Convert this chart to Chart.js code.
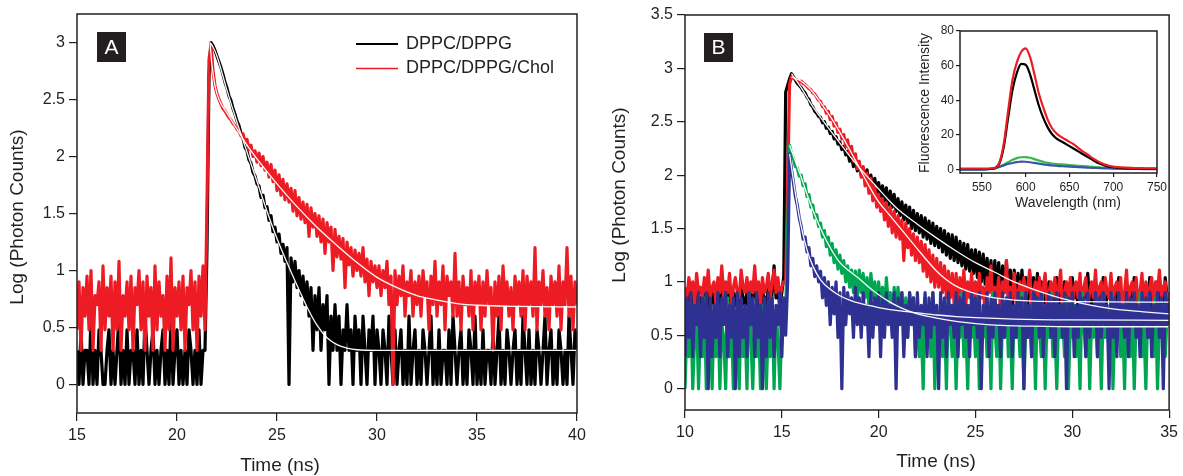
<!DOCTYPE html>
<html><head><meta charset="utf-8">
<script src="https://cdn.jsdelivr.net/npm/chart.js@4.4.1/dist/chart.umd.min.js"></script>
<style>
html,body{margin:0;padding:0;background:#fff;}
#wrap{position:relative;width:1183px;height:476px;overflow:hidden;background:#fff;}
canvas{position:absolute;}
</style></head><body>
<div id="wrap">
<canvas id="cA" width="600" height="476" style="left:0;top:0;width:600px;height:476px"></canvas>
<canvas id="cB" width="583" height="476" style="left:600px;top:0;width:583px;height:476px"></canvas>
<canvas id="cI" width="300" height="230" style="left:880px;top:0;width:300px;height:230px"></canvas>
</div>
<script>
// ---------- Panel A: time base (ns) ----------
const timeStartA = 15, timeStepA = 0.1;
const seriesNamesA = ['DPPC/DPPG', 'DPPC/DPPG/Chol'];
const logA_DPPC_DPPG = [
0.3,0,0.48,0,0.3,0.3,0,0.6,0,0.3, 0,0.48,0.3,0,0,0.3,0.48,0,0.3,0, 0.3,0.6,0,0.3,0,0.48,0,0.3,0.3,0,
0.48,0,0.3,0,0.6,0.3,0,0.3,0.48,0, 0.3,0,0.3,0.48,0,0.3,0,0.6,0,0.3, 0.48,0,0.3,0,0.3,0,0.48,0.3,0,0.3,
0,0.48,0,0.3,0.3,
1.2,2.7,3.0,2.97,2.93,
2.88,2.83,2.78,2.72,2.65,2.6,2.53,2.49,2.42,2.37,
2.31,2.27,2.2,2.16,2.08,2.05,1.97,1.94,1.86,1.83,
1.76,1.74,1.64,1.66,1.55,1.56,1.44,1.48,1.34,1.38,
1.25,1.32,1.15,1.23,1.08,1.2,0,1.11,0.9,1.08,
0.85,1.0,0.78,0.95,0.7,0.9,0.6,0.85,0.3,0.78,
0.48,0.85,0.3,0.7,0.48,0.78,0,0.6,0.3,0.7,
0.3,0.6,0,0.48,0.3,0.7,0.3,0.48,0,0.6,
0.3,0.48,0,0.6,0.3,0,0.48,0.3,0.6,0,
0.48,
0.3,0,0.48,0.3,0,0.6,0.3,0,0.48,0, 0.3,0.48,0,0.3,0,0.6,0,0.3,0.48,0,
0.3,0,0.48,0.3,0,0.3,0.6,0,0.3,0, 0.48,0,0.3,0.3,0,0.48,0,0.6,0.3,0,
0.3,0.48,0,0.3,0,0.48,0.3,0,0.6,0, 0.3,0,0.48,0,0.3,0.3,0,0.48,0,0.3,
0.6,0,0.3,0,0.48,0.3,0,0.3,0.48,0, 0.3,0,0.6,0.3,0,0.48,0,0.3,0,0.48,
0.3,0,0.3,0.6,0,0.3,0.48,0,0.3,0, 0.48,0.3,0,0.3,0,0.6,0.3,0,0.48,0.3
];
const logA_DPPC_DPPG_Chol = [
0.48,0.9,0.3,0.85,0.6,0.95,0.48,1.0,0.3,0.78, 0.7,0.9,0.3,1.04,0.48,0.85,0.6,0.95,0.3,0.9,
0.48,1.08,0.3,0.78,0.6,0.9,0.48,0.95,0.3,0.85, 0.7,1.0,0.48,0.9,0.3,0.95,0.6,0.85,0.3,1.04,
0.48,0.9,0.6,0.78,0.3,0.95,0.48,1.11,0.3,0.85, 0.6,0.9,0.48,0.95,0.3,0.85,0.7,1.0,0.48,0.9,
0.3,0.95,0.6,1.04,0.48,
1.6,2.85,2.98,2.75,2.62,
2.55,2.5,2.46,2.42,2.4,2.37,2.34,2.32,2.29,2.27,
2.24,2.22,2.18,2.2,2.12,2.15,2.06,2.1,2.0,2.05,
1.95,2.03,1.92,2.0,1.88,1.95,1.82,1.93,1.78,1.88,
1.7,1.84,1.66,1.8,1.62,1.76,1.6,1.72,1.52,1.7,
1.48,1.64,1.45,1.6,1.42,1.58,1.3,1.55,1.38,1.5,
1.3,1.48,1.25,1.45,1.15,1.42,1.25,1.38,1.0,1.36,
1.12,1.3,1.1,1.28,0.85,1.25,1.05,1.2,0.95,1.18,
1.0,1.15,0.95,1.2,0.9,1.1,0.78,1.08,0.9,1.04,
0.85,1.04,0.78,1.0,0.85,1.08,0.7,0.95,0,1.0,
0.7,0.95,0.78,1.04,0.6,0.9,0.78,1.0,0.6,0.9,
0.7,0.95,0.6,1.0,0.78,0.9,0.48,0.95,0.7,1.08,
0.6,0.9,0.7,1.04,0.48,0.95,0.78,0.9,0.6,1.15,
0.6,0.9,0.48,0.95,0.7,0.85,0.6,1.0,0.48,0.9,
0.7,0.95,0.48,0.9,0.6,1.0,0.7,0.85,0.3,0.9,
0.6,0.95,0.48,1.04,0.7,0.9,0.6,0.85,0.48,0.95,
0.7,0.9,0.6,1.0,0.48,0.95,0.7,0.9,0.6,1.2,
0.48,0.9,0.7,1.0,0.6,0.85,0.48,0.95,0.7,0.9,
0.6,1.04,0.48,0.9,0.7,1.2,0.6,0.95,0.48,0.9,
0.7
];
const fitA_DPPC_DPPG_t = [21.65,21.8,22,22.5,23,23.5,24,24.5,25,25.5,26,26.5,27,27.5,28,28.5,29,30,32,35,40];
const fitA_DPPC_DPPG_v = [3.0,2.96,2.88,2.58,2.3,2.04,1.78,1.52,1.28,1.07,0.87,0.68,0.52,0.41,0.35,0.32,0.305,0.3,0.3,0.3,0.3];
const fitA_Chol_t = [21.65,21.75,21.9,22.1,22.5,23,23.5,24,25,26,27,28,29,30,31,32,33,34,35,37,40];
const fitA_Chol_v = [3.0,2.8,2.62,2.5,2.38,2.24,2.1,1.98,1.76,1.56,1.38,1.22,1.07,0.94,0.85,0.78,0.74,0.71,0.695,0.685,0.68];
const ticksAX = [15,20,25,30,35,40];
const ticksAY = [0,0.5,1,1.5,2,2.5,3];

// ---------- Panel B ----------
const timeStartB = 10, timeStepB = 0.1;
const logB_black = [
0.85,0.7,0.95,0.78,0.9,0.6,0.95,0.78,0.85,0.7, 0.95,0.78,0.9,0.7,0.9,0.85,0.6,0.95,0.78,0.95,
0.7,0.9,0.85,0.95,0.6,0.9,0.78,0.9,0.7,0.95, 0.85,0.78,0.9,0.7,0.9,0.85,1.0,0.78,0.9,0.7,
0.9,0.85,0.78,0.95,0.7,0.9,1.15,0.85,0.9,0.78, 0.9,1.05,
2.78,2.84,2.9,2.95,2.92,2.89,2.86,2.84,
2.82,2.79,2.77,2.73,2.71,2.66,2.64,2.6,2.58,2.55,
2.54,2.49,2.5,2.44,2.45,2.39,2.41,2.34,2.36,2.29,
2.31,2.24,2.27,2.19,2.22,2.13,2.18,2.08,2.14,2.04,
2.1,2.0,2.07,1.96,2.05,1.92,2.0,1.88,1.97,1.84,
1.93,1.8,1.9,1.76,1.88,1.72,1.85,1.7,1.82,1.66,
1.78,1.62,1.75,1.58,1.72,1.55,1.7,1.5,1.67,1.48,
1.64,1.46,1.62,1.42,1.6,1.4,1.57,1.36,1.55,1.34,
1.52,1.32,1.5,1.28,1.48,1.25,1.45,1.22,1.44,1.2,
1.42,1.18,1.38,1.15,1.36,1.12,1.35,1.1,1.3,1.08,
1.3,1.04,1.28,1.0,1.26,0.98,1.22,0.95,1.2,0.9,
1.2,0.9,1.18,0.85,1.15,0.9,1.2,0.85,1.11,0.78,
1.11,0.85,1.08,0.78,1.11,0.85,1.04,0.78,1.08,0.85,
1.04,0.78,1.08,0.85,1.0,0.7,1.04,0.78,1.0,0.85,
0.95,0.78,1.04,0.7,0.9,0.85,1.0,0.78,0.95,0.7, 1.04,0.85,0.9,0.78,1.0,0.7,0.95,0.85,1.08,0.78,
0.9,0.7,1.0,0.85,0.95,0.78,1.04,0.7,0.9,0.85, 1.0,0.78,0.95,0.7,1.04,0.85,0.9,0.78,1.0,0.7,
0.95,0.85,1.04,0.78,0.9,0.7,1.0,0.85,0.95,0.78, 1.04,0.7,0.9,0.85,1.0,0.78,0.95,0.7,1.04,0.85,
0.9
];
const logB_red = [
0.95,0.85,1.04,0.9,1.0,0.78,1.08,0.9,0.95,0.85, 1.04,0.9,1.11,0.85,0.95,1.0,0.78,1.04,0.9,1.15,
0.85,1.0,0.9,1.08,0.78,0.95,1.04,0.9,0.85,1.11, 0.95,0.9,1.04,0.85,1.0,0.9,1.15,0.85,1.0,0.78,
1.04,0.9,0.95,1.08,0.85,1.0,1.11,0.9,1.04,0.85, 0.95,1.0,
1.0,1.9,2.85,2.92,2.91,2.9,2.89,2.87,
2.88,2.86,2.85,2.83,2.81,2.8,2.77,2.76,2.73,2.7,
2.69,2.64,2.64,2.58,2.6,2.52,2.55,2.46,2.49,2.4,
2.43,2.34,2.38,2.27,2.33,2.2,2.27,2.13,2.2,2.06,
2.13,1.98,2.08,1.9,2.02,1.83,1.97,1.76,1.9,1.7,
1.82,1.66,1.78,1.58,1.74,1.52,1.7,1.46,1.66,1.42,
1.62,1.4,1.58,1.2,1.55,1.32,1.5,1.25,1.45,1.2,
1.42,1.18,1.38,1.1,1.35,1.05,1.3,1.0,1.25,0.95,
1.22,0.95,1.18,0.9,1.15,0.85,1.1,0.85,1.08,0.78,
1.08,0.78,1.04,0.85,1.11,0.78,1.0,0.85,1.08,0.78,
1.0,0.78,1.08,0.85,0.95,0.7,1.04,0.9,1.15,0.78, 0.95,0.85,1.04,0.7,1.0,0.9,1.2,0.78,0.95,0.85,
1.08,0.78,0.9,1.0,0.7,1.04,0.85,0.95,1.11,0.78, 0.9,1.0,0.85,1.04,0.7,0.95,1.08,0.78,0.9,1.0,
0.85,1.04,0.78,0.95,1.11,0.7,0.9,1.0,0.85,1.04, 0.78,0.95,1.0,0.85,1.08,0.7,0.95,1.04,0.78,0.9,
1.0,0.85,1.11,0.78,0.95,1.0,0.7,1.04,0.9,0.85, 1.08,0.78,0.95,1.0,0.85,1.04,0.7,0.9,1.11,0.78,
0.95,1.0,0.85,1.04,0.78,0.9,1.08,0.7,1.0,0.85, 0.95,1.04,0.78,1.0,0.9,1.11,0.85,0.95,1.0,0.78,
0.9
];
const logB_green = [
0,0.6,0.3,0.78,0,0.48,0.7,0,0.6,0.3, 0.85,0,0.48,0.6,0,0.7,0.3,0.78,0,0.6,
0.48,0,0.85,0.3,0.6,0,0.7,0.48,0,0.78, 0.3,0.6,0,0.9,0.48,0,0.7,0.3,0.6,0,
0.78,0.48,0,0.6,0.3,0.85,0,0.7,0.48,0, 0.6,0.78,
0.7,1.5,2.28,2.2,2.16,2.08,2.07,1.99,
2.0,1.9,1.92,1.8,1.82,1.7,1.72,1.6,1.63,1.52,
1.55,1.42,1.48,1.33,1.42,1.25,1.36,1.18,1.3,1.12,
1.25,1.08,1.2,1.0,1.15,0.95,1.11,0.9,1.1,0.85,
1.11,0.9,1.08,0.85,1.04,0.78,1.08,0.85,1.0,0.78,
1.0,0.78,0.95,0.7,1.04,0.78,0.9,0.6,0.95,0.7,
0.95,0.7,0.9,0.6,0.85,0.48,0.9,0.7,0.85,0.3,
0.78,0.3,0.6,0,0.85,0.48,0.7,0.3,0.9,0, 0.6,0.48,0.78,0.3,0.7,0,0.85,0.6,0.3,0.78,
0,0.7,0.48,0.9,0.3,0.6,0,0.78,0.48,0.7, 0.3,0.85,0,0.6,0.48,0.78,0.3,0.7,0,0.9,
0.6,0.3,0.78,0,0.7,0.48,0.85,0.3,0.6,0, 0.78,0.48,0.7,0.3,0.9,0,0.6,0.48,0.78,0.3,
0.7,0,0.85,0.6,0.3,0.78,0,0.7,0.48,0.9, 0.3,0.6,0,0.78,0.48,0.7,0.3,0.85,0,0.6,
0.48,0.78,0.3,0.7,0,0.9,0.6,0.3,0.78,0, 0.7,0.48,0.85,0.3,0.6,0,0.78,0.48,0.7,0.3,
0.9,0,0.6,0.48,0.78,0.3,0.7,0,0.85,0.6, 0.3,0.78,0,0.7,0.48,0.9,0.3,0.6,0,0.78,
0.48,0.7,0.3,0.85,0,0.6,0.48,0.78,0.3,0.7,
0.6
];
const logB_blue = [
0.3,0.85,0.48,0.9,0.3,0.78,0.6,0.9,0.3,0.85, 0.48,0.9,0,0.85,0.3,0.78,0.48,0.9,0.3,0.85,
0.6,0.9,0.3,0.78,0.48,0.85,0,0.9,0.3,0.85, 0.48,0.78,0.3,0.9,0.6,0.85,0.3,0.9,0.48,0.78,
0,0.85,0.3,0.9,0.48,0.85,0.3,0.78,0.6,0.9, 0.3,0.85,
0.5,1.0,2.2,2.05,1.93,1.8,1.72,1.6,
1.52,1.4,1.42,1.28,1.32,1.15,1.22,1.05,1.15,1.0,
1.1,0.85,1.04,0.78,1.0,0.6,0.95,0.7,1.0,0.48,
0.9,0,0.95,0.6,0.9,0.7,0.85,0.48,0.95,0.6,
0.85,0.48,0.9,0.6,0.78,0.3,0.9,0.48,0.85,0.6, 0.9,0.3,0.85,0.48,0.9,0.6,0.78,0.48,0.9,0,
0.85,0.6,0.9,0.3,0.78,0.48,0.9,0.6,0.85,0.3, 0.9,0.48,0.78,0.6,0.9,0.3,0.85,0.48,0.9,0.6,
0.78,0,0.9,0.48,0.85,0.3,0.9,0.6,0.78,0.48, 0.9,0.3,0.85,0.6,0.9,0.48,0.78,0.3,0.9,0.6,
0.85,0.48,0.9,0,0.78,0.6,0.9,0.3,0.85,0.48, 0.9,0.6,0.78,0.3,0.9,0.48,0.85,0.6,0.9,0.3,
0.78,0.48,0.9,0.6,0.85,0,0.9,0.48,0.78,0.3, 0.9,0.6,0.85,0.48,0.9,0.3,0.78,0.6,0.9,0.48,
0.85,0.3,0.9,0.6,0.78,0.48,0.9,0,0.85,0.6, 0.9,0.3,0.78,0.48,0.9,0.6,0.85,0.3,0.9,0.48,
0.78,0.6,0.9,0.3,0.85,0.48,0.9,0.6,0.78,0, 0.9,0.48,0.85,0.3,0.9,0.6,0.78,0.48,0.9,0.3,
0.85,0.6,0.9,0.48,0.78,0.3,0.9,0.6,0.85,0.48, 0.9,0.3,0.78,0.6,0.9,0.48,0.85,0,0.9,0.6,
0.85
];
const fitB_black_t = [15.5,16,16.5,17,17.5,18,18.5,19,19.5,20,20.5,21,22,23,24,25,26,27,28,29,30,31,32,33,34,35];
const fitB_black_v = [2.95,2.82,2.67,2.54,2.42,2.3,2.18,2.07,1.97,1.87,1.77,1.68,1.54,1.41,1.29,1.18,1.09,1.0,0.93,0.87,0.82,0.78,0.75,0.73,0.715,0.7];
const fitB_red_t = [15.5,16,16.5,17,17.5,18,18.5,19,19.5,20,20.5,21,21.5,22,22.5,23,23.5,24,24.5,25,26,27,28,30,35];
const fitB_red_v = [2.92,2.88,2.8,2.68,2.55,2.4,2.24,2.07,1.9,1.75,1.64,1.53,1.42,1.31,1.2,1.1,1.02,0.96,0.92,0.89,0.85,0.83,0.82,0.815,0.81];
const fitB_green_t = [15.4,16,16.5,17,17.5,18,18.5,19,19.5,20,20.5,21,21.5,22,23,24,25,26,28,30,35];
const fitB_green_v = [2.28,1.98,1.72,1.5,1.32,1.18,1.1,1.03,0.95,0.88,0.82,0.77,0.73,0.7,0.66,0.63,0.61,0.595,0.585,0.58,0.58];
const fitB_blue_t = [15.4,15.6,15.8,16,16.3,16.6,17,17.5,18,18.5,19,20,21,22,23,24,25,27,30,35];
const fitB_blue_v = [2.2,1.95,1.72,1.52,1.3,1.15,1.02,0.93,0.87,0.83,0.8,0.76,0.73,0.71,0.69,0.675,0.665,0.652,0.644,0.64];
const ticksBX = [10,15,20,25,30,35];
const ticksBY = [0,0.5,1,1.5,2,2.5,3,3.5];

// ---------- Inset: emission spectra ----------
const wavelength = [525,530,535,540,545,550,555,560,565,570,575,580,585,590,595,600,605,610,615,620,625,630,635,640,645,650,655,660,665,670,675,680,685,690,695,700,705,710,715,720,725,730,735,740,745,750];
const specRed = [0.5,0.5,0.5,0.5,0.5,0.5,0.5,0.6,1.0,4, 15,34,52,62,68,70,65,55,44,36, 29,24,21,19,17.5,16,14.5,12.5,10.5,9, 7,5.5,4,3,2.2,1.7,1.4,1.2,1.1,1.0, 0.9,0.8,0.75,0.7,0.65,0.6];
const specBlack = [0.3,0.3,0.3,0.3,0.3,0.3,0.3,0.4,0.8,3.5, 13,30,46,56,61,60.5,55,46,37,30, 24.5,20.5,18,16.5,15,13.5,12,10.5,9,7.5, 6,4.5,3.3,2.4,1.7,1.3,1.0,0.8,0.7,0.6, 0.55,0.5,0.45,0.4,0.4,0.4];
const specGreen = [0,0,0,0,0,0,0.1,0.3,0.7,1.5, 2.8,4.2,5.6,6.6,7.1,7.2,6.8,6.0,5.2,4.5, 3.9,3.5,3.2,3.0,2.8,2.6,2.4,2.2,2.0,1.8, 1.6,1.4,1.2,1.0,0.9,0.8,0.7,0.6,0.55,0.5, 0.45,0.4,0.35,0.3,0.3,0.3];
const specBlue = [0,0,0,0,0,0,0.1,0.4,0.9,1.6, 2.4,3.2,3.8,4.3,4.6,4.5,4.2,3.8,3.4,3.0, 2.7,2.4,2.2,2.0,1.85,1.7,1.55,1.4,1.25,1.1, 1.0,0.9,0.8,0.7,0.6,0.55,0.5,0.45,0.4,0.35, 0.3,0.3,0.25,0.2,0.2,0.2];
const ticksIX = [550,600,650,700,750];
const ticksIY = [0,20,40,60,80];

// ---------- helpers ----------
const FONT = '"Liberation Sans", Arial, Helvetica, sans-serif';
const INK = '#231f20';
const RED = '#ed1c24', BLACK = '#000000', GREEN = '#00a651', BLUE = '#2e3192';
const TRACE_W = 3.2;
function series(start, step, vals){ return vals.map((v,i)=>({x: Math.round((start+i*step)*100)/100, y: v})); }
function pairs(ts, vs){ return ts.map((t,i)=>({x:t, y:vs[i]})); }
function dataLine(label, data, color, order, w){ return {label, data, borderColor:color, backgroundColor:color, borderWidth:w||TRACE_W, pointRadius:0, borderJoinStyle:'round', tension:0, order, fill:false}; }
function fitLine(data, order){ return {data, borderColor:'rgba(255,255,255,0.97)', borderWidth:1.3, pointRadius:0, cubicInterpolationMode:'monotone', order, fill:false}; }
function scaleCfg(pos, min, max, tickVals, size, fontSize, tickLen, pad){
  return {
    type:'linear', position:pos, min:min, max:max,
    afterBuildTicks: s => { s.ticks = tickVals.map(v=>({value:v})); },
    afterFit: s => { if (pos==='left') s.width = size; else s.height = size; },
    ticks:{ color:INK, font:{family:FONT, size:fontSize}, padding:pad, maxRotation:0, minRotation:0, autoSkip:false, callback: v => String(v) },
    grid:{ display:true, drawOnChartArea:false, drawTicks:true, tickLength:tickLen, color:INK, lineWidth:1.2 },
    border:{ display:false },
    title:{ display:false }
  };
}
function txt(ctx, s, x, y, size, align, color){ ctx.font = size+'px '+FONT; ctx.fillStyle = color||INK; ctx.textAlign = align||'center'; ctx.textBaseline='middle'; ctx.fillText(s, x, y); }
function rotTxt(ctx, s, x, y, size){ ctx.save(); ctx.translate(x,y); ctx.rotate(-Math.PI/2); txt(ctx, s, 0, 0, size); ctx.restore(); }
function badge(ctx, s, x, y, w, h){ ctx.fillStyle = INK; ctx.fillRect(x,y,w,h); txt(ctx, s, x+w/2, y+h/2+1, 21, 'center', '#ffffff'); }
const framePlugin = { id:'frame', afterDatasetsDraw(chart){ const c=chart.ctx, a=chart.chartArea; c.save(); c.strokeStyle=INK; c.lineWidth=1.5; c.strokeRect(a.left, a.top, a.right-a.left, a.bottom-a.top); c.restore(); } };
function baseOptions(pad){
  return { responsive:false, animation:false, devicePixelRatio:1, events:[], parsing:false, normalized:true,
    layout:{ padding:pad }, plugins:{ legend:{display:false}, tooltip:{enabled:false} } };
}

// ---------- Panel A chart ----------
const optA = baseOptions({left:0, right:23, top:14, bottom:0});
optA.scales = { x: scaleCfg('bottom', 15, 40, ticksAX, 63, 16, 8, 5), y: scaleCfg('left', -0.25, 3.25, ticksAY, 77, 16, 8, 4) };
new Chart(document.getElementById('cA'), {
  type:'line',
  data:{ datasets:[
    fitLine(pairs(fitA_DPPC_DPPG_t, fitA_DPPC_DPPG_v), 0),
    fitLine(pairs(fitA_Chol_t, fitA_Chol_v), 0),
    dataLine(seriesNamesA[1], series(timeStartA, timeStepA, logA_DPPC_DPPG_Chol), RED, 1),
    dataLine(seriesNamesA[0], series(timeStartA, timeStepA, logA_DPPC_DPPG), BLACK, 2)
  ]},
  options: optA,
  plugins:[framePlugin, { id:'textA', afterDraw(chart){ const c=chart.ctx; c.save();
    rotTxt(c, 'Log (Photon Counts)', 18, 217, 19);
    txt(c, 'Time (ns)', 280, 466, 19);
    badge(c, 'A', 97, 32, 29, 30);
    c.lineWidth=2; c.strokeStyle=BLACK; c.beginPath(); c.moveTo(356,44); c.lineTo(398,44); c.stroke();
    c.lineWidth=1.5; c.strokeStyle=RED; c.beginPath(); c.moveTo(356,68.5); c.lineTo(398,68.5); c.stroke();
    txt(c, seriesNamesA[0], 406, 44, 18, 'left');
    txt(c, seriesNamesA[1], 406, 68.5, 18, 'left');
    c.restore(); } }]
});

// ---------- Panel B chart ----------
const optB = baseOptions({left:0, right:10, top:15, bottom:0});
optB.scales = { x: scaleCfg('bottom', 10, 35, ticksBX, 66, 16, 8, 5), y: scaleCfg('left', -0.2, 3.5, ticksBY, 85, 16, 8, 4) };
new Chart(document.getElementById('cB'), {
  type:'line',
  data:{ datasets:[
    fitLine(pairs(fitB_black_t, fitB_black_v), 0),
    fitLine(pairs(fitB_red_t, fitB_red_v), 0),
    fitLine(pairs(fitB_green_t, fitB_green_v), 0),
    fitLine(pairs(fitB_blue_t, fitB_blue_v), 0),
    dataLine('blue', series(timeStartB, timeStepB, logB_blue), BLUE, 1),
    dataLine('green', series(timeStartB, timeStepB, logB_green), GREEN, 2),
    dataLine('red', series(timeStartB, timeStepB, logB_red), RED, 3),
    dataLine('black', series(timeStartB, timeStepB, logB_black), BLACK, 4)
  ]},
  options: optB,
  plugins:[framePlugin, { id:'textB', afterDraw(chart){ const c=chart.ctx; c.save();
    rotTxt(c, 'Log (Photon Counts)', 20, 195, 19);
    txt(c, 'Time (ns)', 336, 462, 19);
    badge(c, 'B', 104, 33, 29, 29);
    c.restore(); } }]
});

// ---------- Inset chart ----------
const optI = baseOptions({left:0, right:23, top:31, bottom:0});
optI.scales = { x: scaleCfg('bottom', 525, 750, ticksIX, 57, 12, 4, 3), y: scaleCfg('left', -2, 80, ticksIY, 80, 12, 4, 2) };
new Chart(document.getElementById('cI'), {
  type:'line',
  data:{ datasets:[
    dataLine('red', pairs(wavelength, specRed), RED, 1, 2.2),
    dataLine('black', pairs(wavelength, specBlack), BLACK, 2, 2.2),
    dataLine('blue', pairs(wavelength, specBlue), '#3a56a8', 3, 2.2),
    dataLine('green', pairs(wavelength, specGreen), '#39b54a', 4, 2.2)
  ].map(d => Object.assign(d, {borderJoinStyle:'round', cubicInterpolationMode:'monotone'}))},
  options: optI,
  plugins:[{ id:'bgI', beforeDraw(chart){ const c=chart.ctx, a=chart.chartArea; c.save(); c.fillStyle='#fff'; c.fillRect(a.left,a.top,a.right-a.left,a.bottom-a.top); c.restore(); } },
    framePlugin, { id:'textI', afterDraw(chart){ const c=chart.ctx; c.save();
    rotTxt(c, 'Fluorescence Intensity', 45, 103, 14);
    txt(c, 'Wavelength (nm)', 188, 203, 14);
    c.restore(); } }]
});
</script>
</body></html>
